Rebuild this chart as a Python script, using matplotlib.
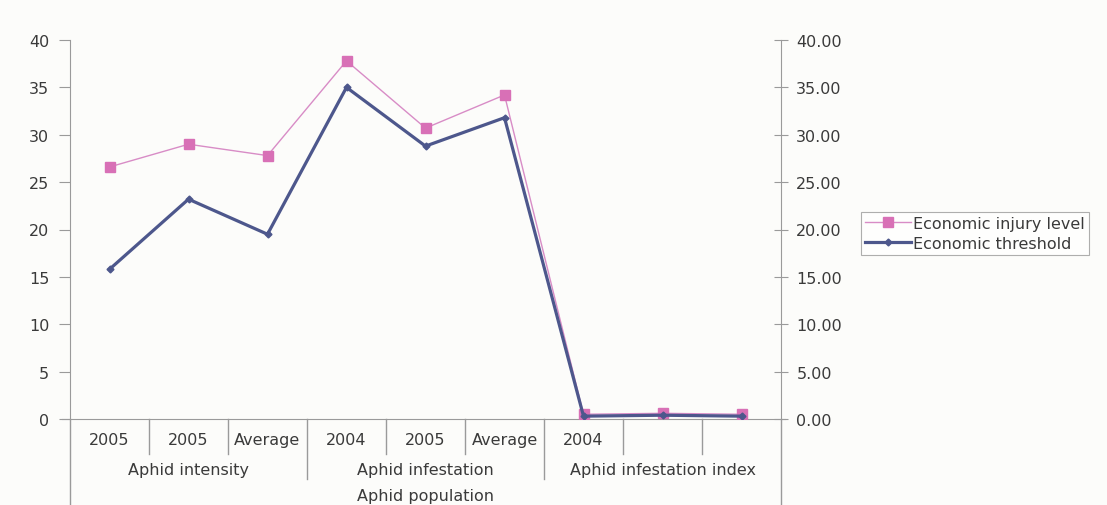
import matplotlib
matplotlib.use("Agg")
import matplotlib.pyplot as plt
from matplotlib.lines import Line2D
from matplotlib.transforms import blended_transform_factory
from matplotlib.ticker import FormatStrFormatter

# data
categories = ["2005", "2005", "Average", "2004", "2005", "Average", "2004", "", ""]
groups = ["Aphid intensity", "Aphid infestation", "Aphid infestation index"]
group_sizes = [3, 3, 3]
top_label = "Aphid population"
injury_level = [26.6, 29.0, 27.8, 37.8, 30.7, 34.2, 0.5, 0.6, 0.5]
threshold = [15.8, 23.2, 19.5, 35.0, 28.8, 31.8, 0.3, 0.4, 0.3]

PINK = "#d88cc6"
PINK_M = "#d870b6"
NAVY = "#4d578c"
GREY = "#9a9a9a"
TXT = "#3a3a3a"
FS = 11.5

plt.rcParams["font.family"] = ["DejaVu Sans"]

fig = plt.figure(figsize=(11.07, 5.06), dpi=100)
fig.patch.set_facecolor("#fcfcfa")
W, H = 1107, 506
x0, x1, ytop, ybot = 70, 781, 41, 420
ax = fig.add_axes([x0 / W, 1 - ybot / H, (x1 - x0) / W, (ybot - ytop) / H])
ax.set_facecolor("none")

n = len(categories)
xs = [i + 0.5 for i in range(n)]
ax.plot(xs, injury_level, color=PINK, lw=1.0, marker="s", ms=6.5,
        mfc=PINK_M, mec=PINK_M, label="Economic injury level", zorder=3)
ax.plot(xs, threshold, color=NAVY, lw=2.3, marker="D", ms=3.5,
        mfc=NAVY, mec=NAVY, label="Economic threshold", zorder=4)

ax.set_xlim(0, n)
ax.set_ylim(0, 40)
ax.set_yticks(range(0, 41, 5))
ax.set_xticks([])
for s in ["top", "right"]:
    ax.spines[s].set_visible(False)
ax.spines["left"].set_color(GREY)
ax.spines["bottom"].set_color(GREY)
ax.spines["bottom"].set_bounds(-0.1, n + 0.05)
ax.tick_params(axis="y", direction="out", length=8, color=GREY,
               labelsize=FS, labelcolor=TXT, pad=7)

ax2 = ax.twinx()
ax2.set_ylim(0, 40)
ax2.set_yticks(range(0, 41, 5))
ax2.yaxis.set_major_formatter(FormatStrFormatter("%.2f"))
for s in ["top", "left", "bottom"]:
    ax2.spines[s].set_visible(False)
ax2.spines["right"].set_color(GREY)
ax2.tick_params(axis="y", direction="inout", length=10, color=GREY,
                labelsize=FS, labelcolor=TXT, pad=6)

# hierarchical category axis below the plot
tr = blended_transform_factory(ax.transData, ax.transAxes)
px = 1.0 / (ybot - ytop)  # one pixel in axes units
for i, lab in enumerate(categories):
    ax.text(i + 0.5, -21 * px, lab, transform=tr, ha="center", va="center",
            fontsize=FS, color=TXT)
starts = [sum(group_sizes[:k]) for k in range(len(groups))]
for i in range(n + 1):
    depth = 60 if i in starts or i == n else 35
    if i == 0 or i == n:
        depth = 86
    ax.add_line(Line2D([i, i], [0, -depth * px], transform=tr, color=GREY,
                       lw=1.0, clip_on=False))
for g, s0, sz in zip(groups, starts, group_sizes):
    ax.text(s0 + sz / 2, -51 * px, g, transform=tr, ha="center", va="center",
            fontsize=FS, color=TXT)
ax.text(n / 2, -77 * px, top_label, transform=tr, ha="center", va="center",
        fontsize=FS, color=TXT)

leg = fig.legend(loc="upper left", bbox_to_anchor=(861 / W, 1 - 213 / H),
                 frameon=True, fancybox=False, fontsize=FS, handlelength=2.9,
                 handletextpad=0.1, borderpad=0.25, labelspacing=0.3,
                 borderaxespad=0)
leg.get_frame().set_edgecolor(GREY)
leg.get_frame().set_linewidth(0.8)
for t in leg.get_texts():
    t.set_color(TXT)

fig.savefig("out.png", dpi=100, facecolor=fig.get_facecolor())
